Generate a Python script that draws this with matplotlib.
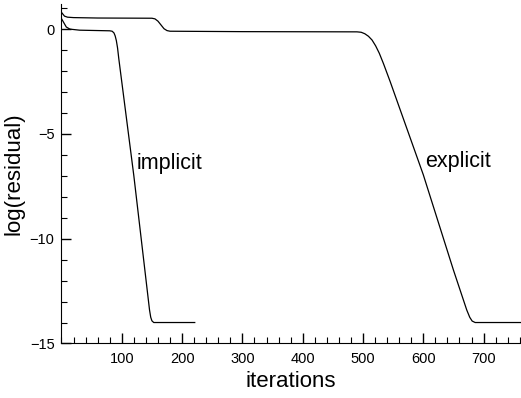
# Convergence history: implicit vs explicit scheme

import matplotlib.pyplot as plt
from matplotlib.ticker import MultipleLocator

plt.rcParams['font.family'] = ['Liberation Sans', 'DejaVu Sans']

# implicit scheme residual history
implicit_iter = [0, 3, 8, 14, 30, 80, 84, 87, 89, 91, 93, 95, 120, 146, 148,
                 150, 153, 160, 221]
implicit_res = [0.5, 0.35, 0.1, 0.0, -0.05, -0.08, -0.1, -0.18, -0.32, -0.55,
                -0.9, -1.4, -7.0, -13.4, -13.75, -13.92, -14.0, -14.0, -14.0]

# explicit scheme residual history
explicit_iter = [0, 5, 10, 20, 60, 150, 155, 160, 165, 170, 175, 180, 300, 490,
                 497, 503, 509, 515, 521, 527, 534, 545, 600, 650, 672, 677,
                 681, 686, 700, 762]
explicit_res = [0.8, 0.62, 0.57, 0.55, 0.53, 0.52, 0.49, 0.38, 0.2, 0.02,
                -0.07, -0.1, -0.12, -0.13, -0.15, -0.22, -0.34, -0.52, -0.8,
                -1.15, -1.65, -2.5, -6.95, -11.5, -13.4, -13.75, -13.93,
                -14.0, -14.0, -14.0]

xtick_vals = [100, 200, 300, 400, 500, 600, 700]
ytick_vals = [-15, -10, -5, 0]

fig = plt.figure(figsize=(5.21, 3.98), dpi=100)
ax = fig.add_axes([0.118, 0.137, 0.882, 0.853])

ax.plot(implicit_iter, implicit_res, color='black', lw=0.9)
ax.plot(explicit_iter, explicit_res, color='black', lw=0.9)

ax.text(125, -6.4, "implicit", fontsize=15.5, va='center', ha='left')
ax.text(603, -6.3, "explicit", fontsize=15.5, va='center', ha='left')

ax.set_xlim(0, 762)
ax.set_ylim(-15, 1.2)
ax.set_xticks(xtick_vals)
ax.set_yticks(ytick_vals)
ax.xaxis.set_minor_locator(MultipleLocator(20))
ax.yaxis.set_minor_locator(MultipleLocator(1))
ax.tick_params(which='major', direction='in', length=7, width=1, labelsize=10.5)
ax.tick_params(which='minor', direction='in', length=4, width=0.8)
ax.tick_params(axis='x', pad=6)
ax.tick_params(axis='y', pad=5)

ax.spines['top'].set_visible(False)
ax.spines['right'].set_visible(False)

ax.set_xlabel("iterations", fontsize=16)
ax.set_ylabel("log(residual)", fontsize=16)

plt.savefig("out.png", dpi=100)
